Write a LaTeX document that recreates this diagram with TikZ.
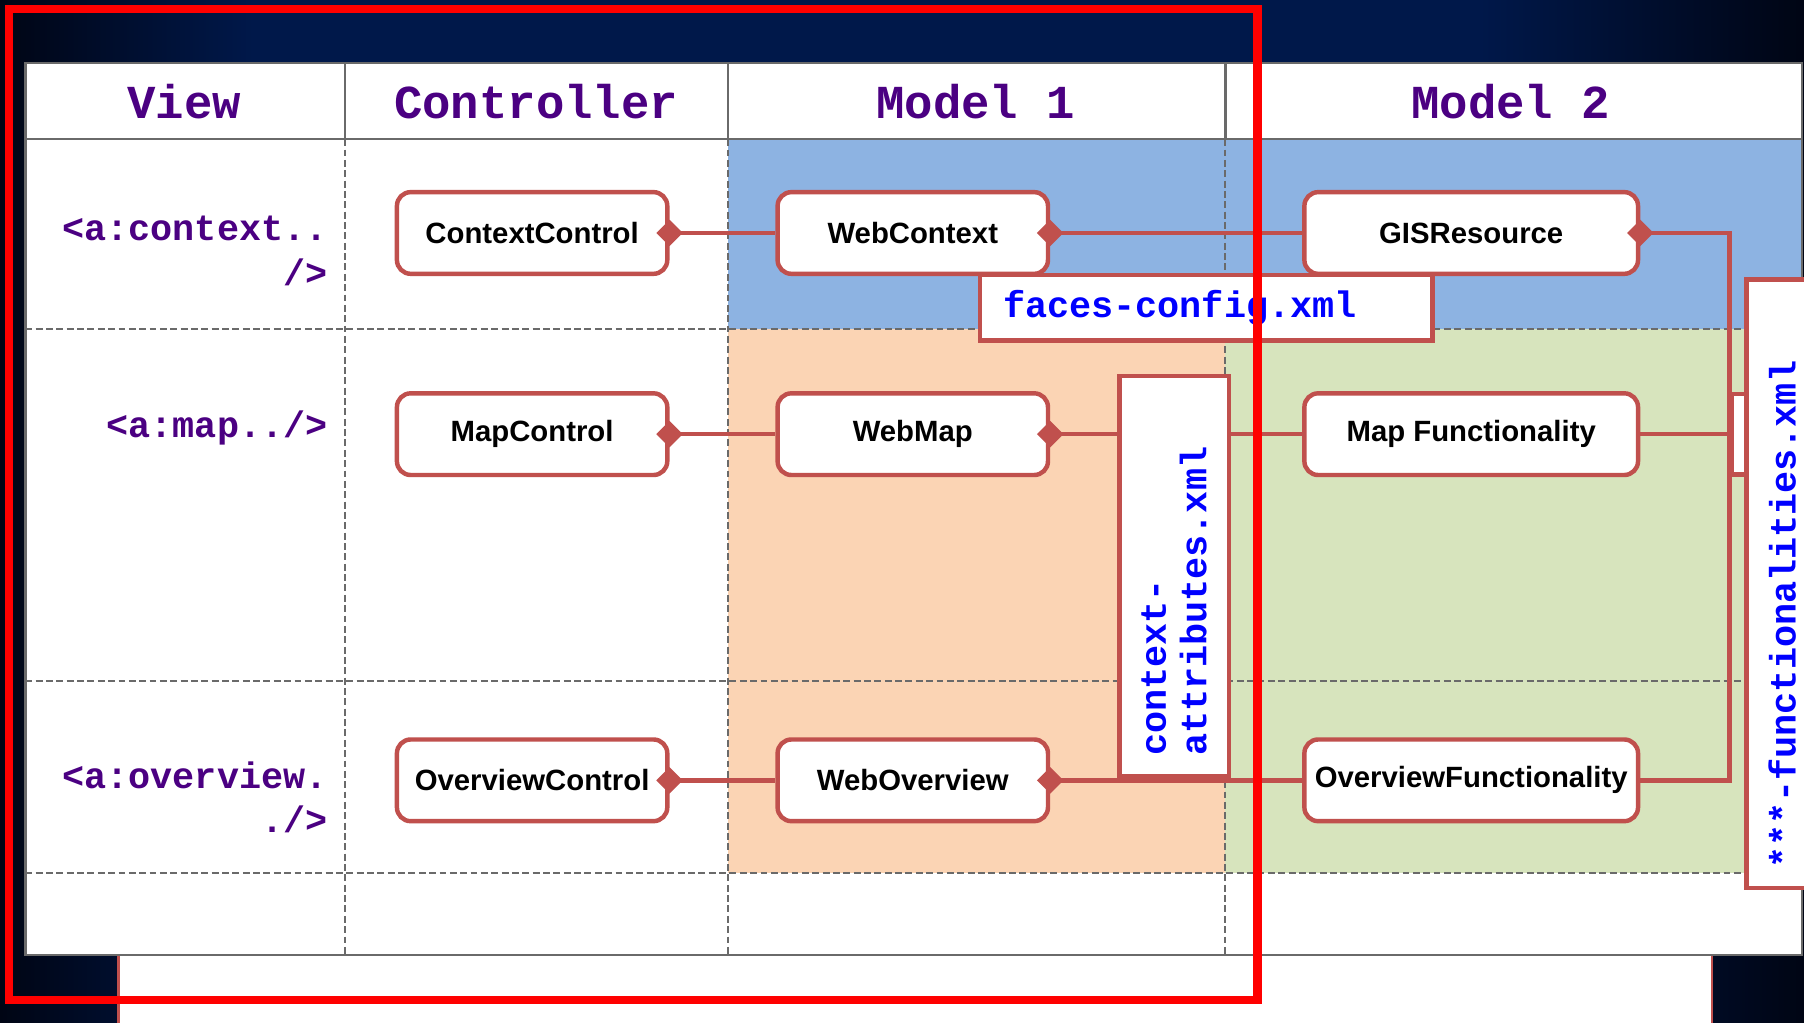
\documentclass[tikz,border=0pt]{standalone}
\usepackage{fontspec}
\setmainfont{Liberation Sans}
\setmonofont{Liberation Mono}
\usetikzlibrary{arrows.meta, positioning}
\definecolor{linkred}{HTML}{C0504D}
\definecolor{ctxblue}{HTML}{8DB3E2}
\definecolor{mappeach}{HTML}{FBD4B4}
\definecolor{funcgreen}{HTML}{D7E4BD}
\definecolor{headpurple}{HTML}{4B0082}
\definecolor{xmlblue}{HTML}{0000FF}
\definecolor{gridgray}{HTML}{6A6A6A}
\definecolor{bgdark}{HTML}{000514}
\definecolor{bgnavy}{HTML}{00184A}
\pgfdeclarehorizontalshading{slidebg}{100bp}{color(0bp)=(bgdark); color(25bp)=(bgdark); color(32bp)=(bgnavy); color(66bp)=(bgnavy); color(75bp)=(bgdark); color(100bp)=(bgdark)}
\newcommand{\code}[1]{\texttt{\detokenize{#1}}}

\begin{document}
\begin{tikzpicture}[x=0.2mm, y=-0.2mm,
  comp/.style={rectangle, rounded corners=2.4mm, draw=linkred, line width=2.2pt, fill=white, minimum width=47mm, minimum height=14.2mm, inner xsep=1mm, font=\bfseries\fontsize{14.5}{16}\selectfont},
  wide/.style={comp, minimum width=58mm},
  link/.style={draw=linkred, line width=2.2pt},
  owner/.style={link, {Diamond[length=4.6mm, width=4.6mm, fill=linkred]}-, shorten <=-2.3mm},
  xmlbox/.style={rectangle, draw=linkred, line width=2.2pt, fill=white, inner sep=0pt, text=xmlblue, align=left, font=\bfseries\fontsize{18.2}{20}\selectfont},
  head/.style={text=headpurple, inner sep=0pt, font=\bfseries\fontsize{23.4}{26}\selectfont},
  tag/.style={text=headpurple, align=right, anchor=east, inner sep=0pt, font=\bfseries\fontsize{18.2}{22}\selectfont},
  cellline/.style={draw=gridgray, line width=1.2pt},
  celldash/.style={draw=gridgray, line width=1pt, dash pattern=on 1.2mm off 0.6mm}]
\useasboundingbox (0,0) rectangle (1568,889);
\shade[shading=slidebg] (0,0) rectangle (1568,889);
\draw[linkred, line width=1pt, fill=white] (103,830) rectangle (1488,900);

% table
\fill[white] (22,55) rectangle (1566,830);
\fill[ctxblue] (633,121) rectangle (1566,286);
\fill[mappeach] (633,286) rectangle (1065,759);
\fill[funcgreen] (1065,286) rectangle (1566,759);
\foreach \x in {300,633,1065} {
  \draw[cellline] (\x,55) -- (\x,121);
  \draw[celldash] (\x,121) -- (\x,830);
}
\foreach \y in {286,592,759}
  \draw[celldash] (22,\y) -- (1566,\y);
\draw[cellline] (22,121) -- (1566,121);
\draw[cellline] (22,55) rectangle (1566,830);

\node[head] (hView)  at (160,88)  {\code{View}};
\node[head] (hCtrl)  at (466,88)  {\code{Controller}};
\node[head] (hModA)  at (848,88)  {\code{Model 1}};
\node[head] (hModB)  at (1313,88) {\code{Model 2}};

\node[tag] (tContext)  at (285,218) {\code{<a:context..}\\\code{/>}};
\node[tag] (tMap)      at (285,372) {\code{<a:map../>}};
\node[tag] (tOverview) at (285,693) {\code{<a:overview.}\\\code{./>}};

% components
\node[comp] (ContextControl) at (462.5,202.5) {ContextControl};
\node[comp] (WebContext)   [right=18.4mm of ContextControl] {WebContext};
\node[wide] (GISResource)  [right=43.8mm of WebContext]   {GISResource};
\node[comp] (MapControl)   [below=20mm of ContextControl] {MapControl};
\node[comp] (WebMap)       [right=18.4mm of MapControl]   {WebMap};
\node[wide] (MapFunc)      [right=43.8mm of WebMap]       {Map Functionality};
\node[comp] (OverviewControl) [below=45.2mm of MapControl] {OverviewControl};
\node[comp] (WebOverview)  [right=18.4mm of OverviewControl] {WebOverview};
\node[wide] (OverviewFunc) [right=43.8mm of WebOverview]  {OverviewFunctionality};
\node[rectangle, draw=linkred, line width=2.2pt, fill=white, minimum width=6.4mm, minimum height=14mm, inner sep=0pt] (FuncStub) at (MapFunc.east -| 1521,0) {};

\path
(ContextControl)  edge[owner] (WebContext)
(WebContext)      edge[owner] (GISResource)
(MapControl)      edge[owner] (WebMap)
(WebMap)          edge[owner] (MapFunc)
(OverviewControl) edge[owner] (WebOverview)
(WebOverview)     edge[owner] (OverviewFunc);
\draw[owner] (GISResource.east) -| (FuncStub.west) |- (OverviewFunc.east);
\draw[link] (MapFunc) -- (FuncStub);

% config files
\node[xmlbox, minimum width=78.6mm, minimum height=11.4mm, text width=70.6mm] (FacesCfg) at (1048.5,267.5) {\code{faces-config.xml}};
\node[xmlbox, rotate=90, minimum width=69.6mm, minimum height=19mm, text width=62.4mm] (CtxAttr) at (1020.5,501) {\code{context-}\\\code{attributes.xml}};
\node[xmlbox, rotate=90, minimum width=105.8mm, minimum height=12.4mm, text width=99mm] (FuncCfg) at (1549,507.5) {\code{***-functionalities.xml}};

\draw[red, line width=4pt] (8,8) rectangle (1093,869);
\end{tikzpicture}
\end{document}
